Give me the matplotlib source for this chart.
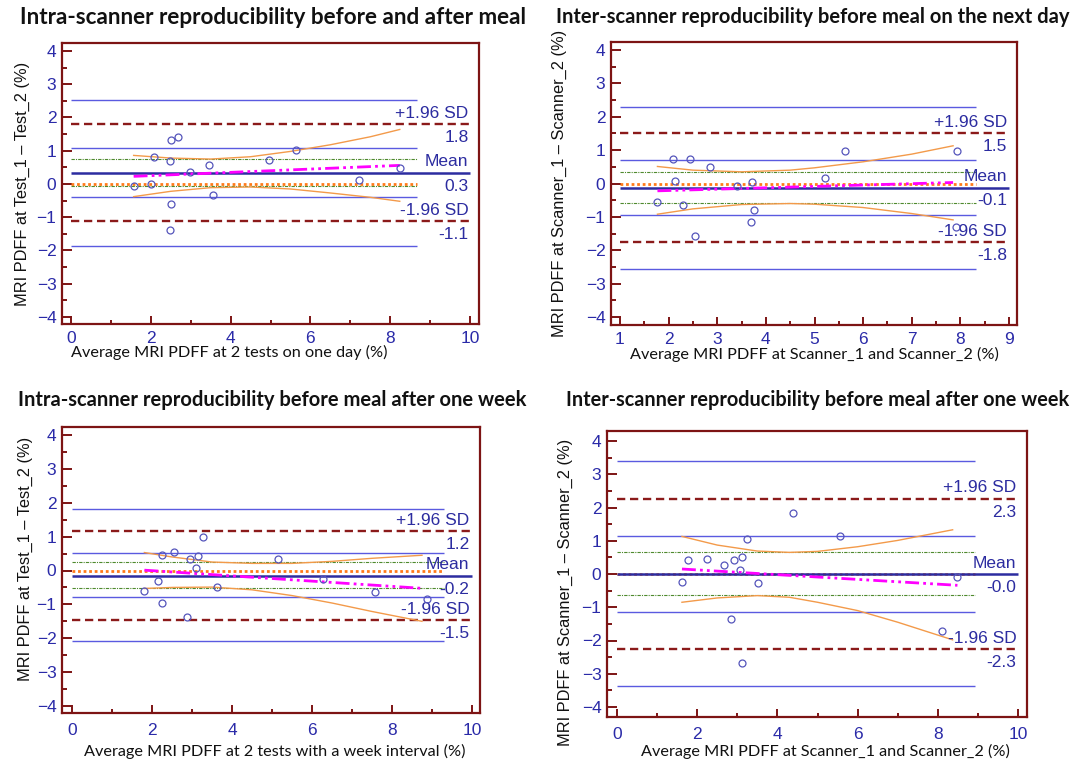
import matplotlib.pyplot as plt
from matplotlib.ticker import MultipleLocator
import numpy as np

plt.rcParams['font.family'] = ['Liberation Sans', 'DejaVu Sans']

titles = ['Intra-scanner reproducibility before and after meal',
          'Inter-scanner reproducibility before meal on the next day',
          'Intra-scanner reproducibility before meal after one week',
          'Inter-scanner reproducibility before meal after one week']
xlabels = ['Average MRI PDFF at 2 tests on one day (%)',
           'Average MRI PDFF at Scanner_1 and Scanner_2 (%)',
           'Average MRI PDFF at 2 tests with a week interval (%)',
           'Average MRI PDFF at Scanner_1 and Scanner_2 (%)']
ylabels = ['MRI PDFF at Test_1 \u2013 Test_2 (%)',
           'MRI PDFF at Scanner_1 \u2013 Scanner_2 (%)',
           'MRI PDFF at Test_1 \u2013 Test_2 (%)',
           'MRI PDFF at Scanner_1 \u2013 Scanner_2 (%)']

# ---- panel 1: intra-scanner before / after meal
x1 = [1.57, 2.01, 2.08, 2.50, 2.68, 2.48, 2.97, 3.46, 2.50, 2.48, 3.55, 4.97, 5.64, 7.22, 8.24]
d1 = [-0.07, -0.01, 0.81, 1.33, 1.41, 0.68, 0.35, 0.58, -0.61, -1.37, -0.33, 0.73, 1.01, 0.12, 0.47]
mean1 = 0.33
loa1 = [-1.12, 1.80]
loa_ci1 = [-1.85, -0.40, 1.07, 2.52]
mean_ci1 = [-0.05, 0.74]
reg_x1 = [1.57, 8.24]
reg_y1 = [0.23, 0.56]
band_x1 = [1.57, 2.5, 3.5, 4.5, 5.5, 6.5, 7.5, 8.24]
band_hi1 = [0.86, 0.78, 0.75, 0.82, 0.98, 1.18, 1.42, 1.64]
band_lo1 = [-0.38, -0.22, -0.11, -0.09, -0.15, -0.27, -0.40, -0.52]
lab1 = ['+1.96 SD', '1.8', 'Mean', '0.3', '-1.96 SD', '-1.1']

# ---- panel 2: inter-scanner next day
x2 = [1.77, 2.10, 2.44, 2.13, 2.30, 2.54, 2.86, 3.40, 3.71, 3.76, 3.70, 5.21, 5.63, 7.93, 7.90]
d2 = [-0.55, 0.74, 0.72, 0.06, -0.65, -1.56, 0.48, -0.08, 0.05, -0.79, -1.16, 0.15, 0.96, 0.98, -1.31]
mean2 = -0.12
loa2 = [-1.76, 1.50]
loa_ci2 = [-2.56, -0.95, 0.70, 2.30]
mean_ci2 = [-0.58, 0.34]
reg_x2 = [1.77, 7.85]
reg_y2 = [-0.22, 0.03]
band_x2 = [1.77, 2.5, 3.5, 4.5, 5.0, 6.0, 7.0, 7.85]
band_hi2 = [0.51, 0.40, 0.35, 0.40, 0.47, 0.65, 0.88, 1.13]
band_lo2 = [-0.92, -0.76, -0.63, -0.60, -0.62, -0.72, -0.90, -1.09]
lab2 = ['+1.96 SD', '1.5', 'Mean', '-0.1', '-1.96 SD', '-1.8']

# ---- panel 3: intra-scanner one week
x3 = [1.81, 2.24, 2.54, 2.15, 2.26, 2.87, 2.96, 3.16, 3.11, 3.27, 3.63, 5.14, 6.28, 7.58, 8.88]
d3 = [-0.60, 0.47, 0.56, -0.30, -0.95, -1.37, 0.34, 0.42, 0.08, 0.99, -0.50, 0.34, -0.26, -0.64, -0.84]
mean3 = -0.16
loa3 = [-1.47, 1.16]
loa_ci3 = [-2.07, -0.79, 0.53, 1.81]
mean_ci3 = [-0.51, 0.24]
reg_x3 = [1.81, 8.80]
reg_y3 = [0.01, -0.53]
band_x3 = [1.81, 2.5, 3.5, 4.5, 5.5, 6.5, 7.5, 8.75]
band_hi3 = [0.53, 0.40, 0.25, 0.21, 0.21, 0.27, 0.36, 0.45]
band_lo3 = [-0.53, -0.50, -0.49, -0.57, -0.74, -0.96, -1.21, -1.50]
lab3 = ['+1.96 SD', '1.2', 'Mean', '-0.2', '-1.96 SD', '-1.5']

# ---- panel 4: inter-scanner one week
x4 = [1.62, 1.78, 2.25, 2.66, 2.93, 3.11, 3.06, 3.23, 2.84, 3.12, 3.52, 4.38, 5.57, 8.10, 8.49]
d4 = [-0.24, 0.42, 0.46, 0.28, 0.43, 0.52, 0.13, 1.05, -1.35, -2.69, -0.28, 1.84, 1.13, -1.72, -0.08]
mean4 = -0.01
loa4 = [-2.27, 2.26]
loa_ci4 = [-3.38, -1.15, 1.15, 3.39]
mean_ci4 = [-0.63, 0.65]
reg_x4 = [1.62, 8.49]
reg_y4 = [0.15, -0.34]
band_x4 = [1.62, 2.5, 3.5, 4.3, 5.0, 6.0, 7.0, 8.37]
band_hi4 = [1.13, 0.87, 0.69, 0.65, 0.68, 0.82, 1.01, 1.33]
band_lo4 = [-0.85, -0.72, -0.65, -0.70, -0.85, -1.10, -1.45, -1.98]
lab4 = ['+1.96 SD', '2.3', 'Mean', '-0.0', '-1.96 SD', '-2.3']

W, H = 1084, 763
fig = plt.figure(figsize=(W / 100, H / 100), dpi=100)
renderer = fig.canvas.get_renderer()

MAROON = '#7d1414'
NAVY = '#2c2ca0'
TICKC = '#2a2aa8'


def make_ax(frame, xref, yref):
    # frame in pixels (l, r, t, b), xref/yref: (px, value, px, value)
    l, r, t, b = frame
    ax = fig.add_axes([l / W, 1 - b / H, (r - l) / W, (b - t) / H])
    sx = (xref[3] - xref[1]) / (xref[2] - xref[0])
    ax.set_xlim(xref[1] + (l - xref[0]) * sx, xref[1] + (r - xref[0]) * sx)
    sy = (yref[3] - yref[1]) / (yref[2] - yref[0])
    ax.set_ylim(yref[1] + (b - yref[0]) * sy, yref[1] + (t - yref[0]) * sy)
    return ax


def panel(ax, k, x, d, mean, loa, loa_ci, mean_ci, reg_x, reg_y, band_x, band_hi, band_lo,
          labs, xmax, ci_end, xt, xpad, ylab_x, ylab_y, xlab_x, xlab_y, title_box):
    ax.hlines(0, xt[0], ci_end, color='#ff7a1a', lw=2.0, linestyle=(0, (1, 1)), zorder=2)
    for v in loa_ci:
        ax.hlines(v, xt[0], ci_end, color='#5a5ae0', lw=1.0, zorder=2)
    for v in mean_ci:
        ax.hlines(v, xt[0], ci_end, color='#4f8a2e', lw=0.8, linestyle=(0, (3, 1, 1, 1)), zorder=2)
    for v in loa:
        ax.hlines(v, xt[0], xmax, color='#8b1a1a', lw=1.7, linestyle=(0, (3.5, 2)), zorder=3)
    ax.hlines(mean, xt[0], xmax, color=NAVY, lw=1.8, zorder=3)
    ax.plot(band_x, band_hi, color='#f39a4a', lw=1.0, zorder=3)
    ax.plot(band_x, band_lo, color='#f39a4a', lw=1.0, zorder=3)
    ax.plot(reg_x, reg_y, color='#ff00ff', lw=2.0, linestyle=(0, (5, 1.5, 1, 1.5, 1, 1.5)), zorder=4)
    ax.plot(x, d, 'o', mfc='none', mec='#5555bb', ms=5, mew=0.9, zorder=5)

    tr = ax.get_yaxis_transform()
    lx = 0.975
    for i, v in enumerate([loa[1], mean, loa[0]]):
        ax.annotate(labs[2 * i], (lx, v), xycoords=tr, xytext=(0, 8), textcoords='offset points',
                    ha='right', va='center', fontsize=12.5, color=NAVY)
        ax.annotate(labs[2 * i + 1], (lx, v), xycoords=tr, xytext=(0, -9.5), textcoords='offset points',
                    ha='right', va='center', fontsize=12.5, color=NAVY)

    for s in ax.spines.values():
        s.set_color(MAROON)
        s.set_linewidth(1.6)
    ax.set_xticks(xt)
    ax.set_yticks(np.arange(-4, 5, 1))
    ax.yaxis.set_minor_locator(MultipleLocator(0.5))
    ax.xaxis.set_minor_locator(MultipleLocator(1 if xt[1] - xt[0] == 2 else 0.5))
    ax.tick_params(which='both', direction='in', color=MAROON, width=1.4, labelcolor=TICKC,
                   labelsize=12.5, top=False, right=False)
    ax.tick_params(axis='y', which='major', length=7, pad=4)
    ax.tick_params(axis='y', which='minor', length=3.5)
    ax.tick_params(axis='x', which='major', length=6, pad=xpad)
    ax.tick_params(axis='x', which='minor', length=3)

    ax.text(ylab_x, ylab_y, ylabels[k], transform=ax.transAxes, rotation=90, ha='center', va='center',
            fontsize=11.8, color='#111111')
    ax.text(xlab_x, xlab_y, xlabels[k], transform=ax.transAxes, ha='center', va='center',
            fontsize=11.7, color='#111111', family=['Lato', 'DejaVu Sans'])

    # title fitted to the width it takes in the reference
    x0, x1_, yc = title_box
    t = fig.text((x0 + x1_) / 2 / W, 1 - yc / H, titles[k], ha='center', va='center', fontsize=16,
                 fontweight='bold', family=['Lato', 'DejaVu Sans'], color='#111111')
    w = t.get_window_extent(renderer).width
    t.set_fontsize(16 * (x1_ - x0) / w)


ax1 = make_ax((62, 479, 43, 324), (71, 0, 470, 10), (317, -4, 51, 4))
panel(ax1, 0, x1, d1, mean1, loa1, loa_ci1, mean_ci1, reg_x1, reg_y1, band_x1, band_hi1, band_lo1,
      lab1, 10, 8.67, np.arange(0, 11, 2), 5, -0.096, 0.5, 0.40, -0.103, (18, 527, 17))

ax2 = make_ax((611, 1017, 42, 325), (620, 1, 1009, 9), (317, -4, 50, 4))
panel(ax2, 1, x2, d2, mean2, loa2, loa_ci2, mean_ci2, reg_x2, reg_y2, band_x2, band_hi2, band_lo2,
      lab2, 9, 8.33, np.arange(1, 10, 1), 5, -0.126, 0.5, 0.50, -0.103, (555, 1070, 17))

ax3 = make_ax((62, 480, 427, 713), (72, 0, 472, 10), (706, -4, 435, 4))
panel(ax3, 2, x3, d3, mean3, loa3, loa_ci3, mean_ci3, reg_x3, reg_y3, band_x3, band_hi3, band_lo3,
      lab3, 10, 9.29, np.arange(0, 11, 2), 7.5, -0.088, 0.54, 0.51, -0.136, (18, 527, 400))

ax4 = make_ax((607, 1027, 431, 717), (617, 0, 1018, 10), (707, -4, 441, 4))
panel(ax4, 3, x4, d4, mean4, loa4, loa_ci4, mean_ci4, reg_x4, reg_y4, band_x4, band_hi4, band_lo4,
      lab4, 10, 8.92, np.arange(0, 11, 2), 7, -0.10, 0.437, 0.52, -0.122, (565, 1070, 400))

fig.savefig('out.png', dpi=100)
